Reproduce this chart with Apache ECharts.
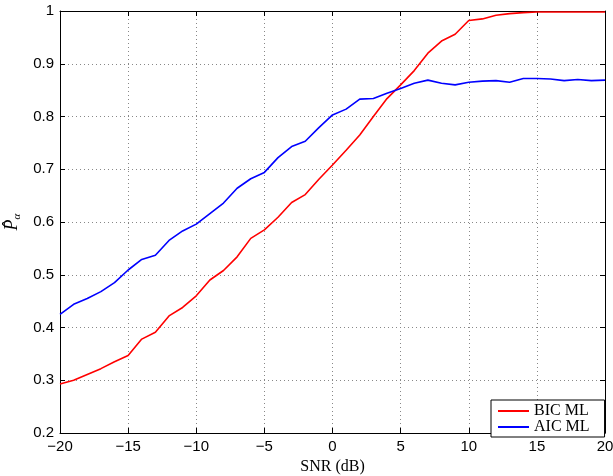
<!DOCTYPE html>
<html>
<head>
<meta charset="utf-8">
<script src="https://cdn.jsdelivr.net/npm/echarts@6/dist/echarts.min.js"></script>
<style>
  html, body { margin: 0; padding: 0; background: #fff; }
  #chart { width: 613px; height: 476px; }
</style>
</head>
<body>
<div id="chart"></div>
<script>
// SNR grid in dB, one point per dB
const snr = []
for (let s = -20; s <= 20; s++) snr.push(s)

const bicML = [0.293, 0.300, 0.311, 0.322, 0.335, 0.347, 0.378, 0.391, 0.422, 0.438,
  0.460, 0.490, 0.508, 0.534, 0.569, 0.585, 0.609, 0.637, 0.652, 0.681,
  0.708, 0.736, 0.765, 0.800, 0.834, 0.860, 0.887, 0.920, 0.943, 0.956,
  0.982, 0.985, 0.992, 0.995, 0.997, 0.998, 0.998, 0.998, 0.998, 0.998, 0.998]

const aicML = [0.425, 0.444, 0.455, 0.468, 0.485, 0.509, 0.529, 0.537, 0.565, 0.583,
  0.596, 0.616, 0.636, 0.664, 0.682, 0.694, 0.722, 0.743, 0.753, 0.779,
  0.803, 0.814, 0.833, 0.834, 0.844, 0.853, 0.863, 0.869, 0.863, 0.860,
  0.865, 0.867, 0.868, 0.865, 0.872, 0.872, 0.871, 0.868, 0.870, 0.868, 0.869]

const pair = (ys) => snr.map((x, i) => [x, ys[i]])

const tickFont = { fontFamily: 'Liberation Sans', fontSize: 15, color: '#000' }
const frameLine = { show: true, onZero: false, lineStyle: { color: '#000', width: 1 } }
const inTick = { show: true, inside: true, length: 5, lineStyle: { color: '#000' } }
const grid = { type: [1, 3], color: '#888', width: 1 }

const chart = echarts.init(document.getElementById('chart'))
chart.setOption({
  animation: false,
  grid: { left: 60, right: 8, top: 11, bottom: 43, outerBoundsMode: 'none' },
  legend: {
    orient: 'vertical',
    left: 491,
    top: 400,
    padding: [3, 15, 2, 7],
    itemGap: 0,
    itemWidth: 31,
    itemHeight: 2,
    icon: 'rect',
    backgroundColor: '#fff',
    borderColor: '#000',
    borderWidth: 1,
    borderRadius: 0,
    textStyle: { fontFamily: 'Liberation Serif', fontSize: 16, color: '#000', lineHeight: 12 },
    data: ['BIC ML', 'AIC ML']
  },
  xAxis: [{
    type: 'value', min: -20, max: 20, interval: 5,
    axisLine: frameLine, axisTick: inTick,
    axisLabel: { ...tickFont, margin: 6, formatter: v => String(v).replace('-', '\u2212') },
    splitLine: { show: true, lineStyle: grid },
    name: 'SNR (dB)', nameLocation: 'middle', nameGap: 23,
    nameTextStyle: { fontFamily: 'Liberation Serif', fontSize: 16, color: '#000' }
  }, {
    type: 'value', position: 'top', min: -20, max: 20, interval: 5,
    axisLine: frameLine, axisTick: inTick, axisLabel: { show: false }, splitLine: { show: false }
  }],
  yAxis: [{
    type: 'value', min: 0.2, max: 1, interval: 0.1,
    axisLine: frameLine, axisTick: inTick,
    axisLabel: { ...tickFont, margin: 6 },
    splitLine: { show: true, lineStyle: grid },
    name: '{p|P\u0302}{a|\u03b1}', nameLocation: 'middle', nameGap: 27,
    nameTextStyle: {
      color: '#000',
      rich: {
        p: { fontFamily: 'Liberation Serif', fontStyle: 'italic', fontSize: 18, color: '#000' },
        a: { fontFamily: 'Liberation Serif', fontStyle: 'italic', fontSize: 11, color: '#000', padding: [8, 0, 0, 0] }
      }
    }
  }, {
    type: 'value', position: 'right', min: 0.2, max: 1, interval: 0.1,
    axisLine: frameLine, axisTick: inTick, axisLabel: { show: false }, splitLine: { show: false }
  }],
  series: [{
    name: 'BIC ML', type: 'line', data: pair(bicML), showSymbol: false,
    lineStyle: { color: '#ff0000', width: 1.6 }, itemStyle: { color: '#ff0000' }
  }, {
    name: 'AIC ML', type: 'line', data: pair(aicML), showSymbol: false,
    lineStyle: { color: '#0000ff', width: 1.6 }, itemStyle: { color: '#0000ff' }
  }]
})
</script>
</body>
</html>
